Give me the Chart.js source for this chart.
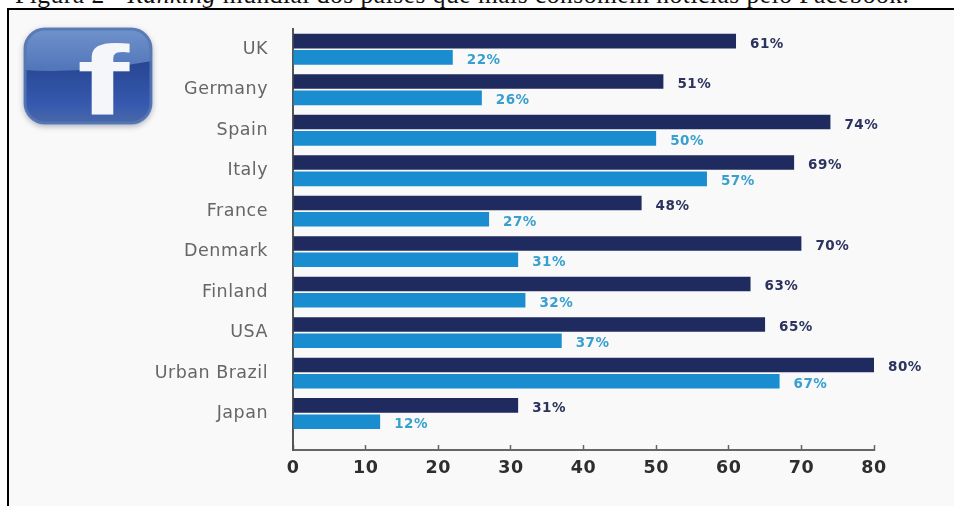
<!DOCTYPE html>
<html lang="pt">
<head>
<meta charset="utf-8">
<title>Ranking mundial</title>
<style>
    html, body { margin: 0; padding: 0; background: #fff; overflow: hidden; }
    #page { position: relative; width: 954px; height: 506px; overflow: hidden; }
    #caption {
        position: absolute; left: 15px; top: -20.5px; white-space: nowrap;
        font: 25.5px "Liberation Serif", serif; color: #111; letter-spacing: 0.5px;
    }
    #frame {
        position: absolute; left: 7px; top: 8px; width: 947px; height: 498px;
        box-sizing: border-box; border-left: 2px solid #000; border-top: 2px solid #000;
        background: #f9f9f9;
    }
    canvas { position: absolute; left: 0; top: 0; }
</style>
<script src="https://cdn.jsdelivr.net/npm/chart.js@4/dist/chart.umd.min.js"></script>
</head>
<body>
<div id="page">
    <div id="caption">Figura 2 - <i>Ranking</i> mundial dos países que mais consomem notícias pelo Facebook.</div>
    <div id="frame"></div>
    <canvas id="rankingChart" width="954" height="506"></canvas>
</div>
<script>
const categories = ["UK", "Germany", "Spain", "Italy", "France", "Denmark", "Finland", "USA", "Urban Brazil", "Japan"];
const anyUse = [61, 51, 74, 69, 48, 70, 63, 65, 80, 31];
const newsUse = [22, 26, 50, 57, 27, 31, 32, 37, 67, 12];

const darkBlue = "#1f2a5f";
const lightBlue = "#198dcf";

// y is a linear index scale so the axis can run on a little past the last row
const toPoints = (values) => values.map((v, i) => ({x: v, y: i}));

// percent text to the right of each bar
const valueLabels = {
    id: "valueLabels",
    afterDatasetsDraw: (chart) => {
        const {ctx} = chart;
        const colors = ["#2c335f", "#38a0cf"];
        ctx.save();
        ctx.font = "bold 13.5px 'DejaVu Sans'";
        ctx.textAlign = "left";
        ctx.textBaseline = "middle";
        chart.data.datasets.forEach((dataset, d) => {
            ctx.fillStyle = colors[d];
            chart.getDatasetMeta(d).data.forEach((bar, i) => {
                ctx.fillText(dataset.data[i].x + "%", bar.x + 14, bar.y + 3);
            });
        });
        ctx.restore();
    },
};

// glossy facebook badge in the top left corner
const facebookBadge = {
    id: "facebookBadge",
    beforeDraw: (chart) => {
        const {ctx} = chart;
        const x = 24, y = 28, w = 128, h = 96;

        // all the lettering on the canvas is set a bit wide
        ctx.letterSpacing = "0.5px";

        ctx.save();
        ctx.shadowColor = "rgba(40, 50, 90, 0.4)";
        ctx.shadowBlur = 6;
        ctx.shadowOffsetY = 2;
        ctx.beginPath();
        ctx.roundRect(x, y, w, h, 21);
        const base = ctx.createLinearGradient(0, y + 30, 0, y + h);
        base.addColorStop(0, "#26448f");
        base.addColorStop(0.7, "#3659ae");
        base.addColorStop(1, "#4a69a8");
        ctx.fillStyle = base;
        ctx.fill();
        ctx.shadowColor = "transparent";

        // lighter top half, its lower edge bows across the badge
        ctx.save();
        ctx.clip();
        ctx.beginPath();
        ctx.moveTo(x, y);
        ctx.lineTo(x + w, y);
        ctx.lineTo(x + w, y + 33);
        ctx.quadraticCurveTo(x + w * 0.45, y + 46, x, y + 42);
        ctx.closePath();
        const gloss = ctx.createLinearGradient(0, y, 0, y + 44);
        gloss.addColorStop(0, "#7193cc");
        gloss.addColorStop(1, "#4f74b8");
        ctx.fillStyle = gloss;
        ctx.fill();
        ctx.restore();

        ctx.beginPath();
        ctx.roundRect(x + 1, y + 1, w - 2, h - 2, 20);
        ctx.strokeStyle = "rgba(85, 120, 180, 0.85)";
        ctx.lineWidth = 3;
        ctx.stroke();

        // stretched sideways, the plain bold f is too narrow
        ctx.translate(77, 114);
        ctx.scale(1.6, 1);
        ctx.fillStyle = "#f4f6fa";
        ctx.font = "bold 98px 'Liberation Sans'";
        ctx.textAlign = "left";
        ctx.textBaseline = "alphabetic";
        ctx.fillText("f", 0, 0);
        ctx.restore();
    },
};

new Chart(document.getElementById("rankingChart"), {
    type: "bar",
    data: {
        datasets: [
            {label: "Any use", data: toPoints(anyUse), backgroundColor: darkBlue},
            {label: "News use", data: toPoints(newsUse), backgroundColor: lightBlue},
        ],
    },
    plugins: [facebookBadge, valueLabels],
    options: {
        indexAxis: "y",
        responsive: false,
        animation: false,
        categoryPercentage: 0.805,
        barPercentage: 0.896,
        layout: {padding: {top: 29, right: 80, bottom: 0, left: 0}},
        plugins: {
            legend: {display: false},
            tooltip: {enabled: false},
        },
        scales: {
            x: {
                type: "linear",
                min: 0,
                max: 80,
                ticks: {
                    stepSize: 10,
                    maxRotation: 0,
                    padding: 12.5,
                    color: "#2e2e2e",
                    font: {family: "'DejaVu Sans'", size: 17.5, weight: "bold"},
                },
                grid: {drawOnChartArea: false, tickLength: -5, tickColor: "#666", tickWidth: 1.5},
                border: {color: "#666", width: 2},
                afterFit: (scale) => {
                    scale.height = 56;
                    scale.paddingLeft = 0;
                    scale.paddingRight = 0;
                },
            },
            y: {
                type: "linear",
                offset: false,
                reverse: true,
                min: -0.5,
                max: 9.9,
                afterBuildTicks: (scale) => {
                    scale.ticks = categories.map((c, i) => ({value: i}));
                },
                ticks: {
                    autoSkip: false,
                    padding: 25,
                    color: "#666",
                    font: {family: "'DejaVu Sans'", size: 17.5},
                    callback: (value) => categories[value],
                },
                grid: {drawOnChartArea: false, drawTicks: false, offset: false},
                border: {color: "#555", width: 2},
                afterFit: (scale) => {
                    scale.width = 293;
                    scale.paddingTop = 0;
                    scale.paddingBottom = 0;
                },
            },
        },
    },
});
</script>
</body>
</html>
